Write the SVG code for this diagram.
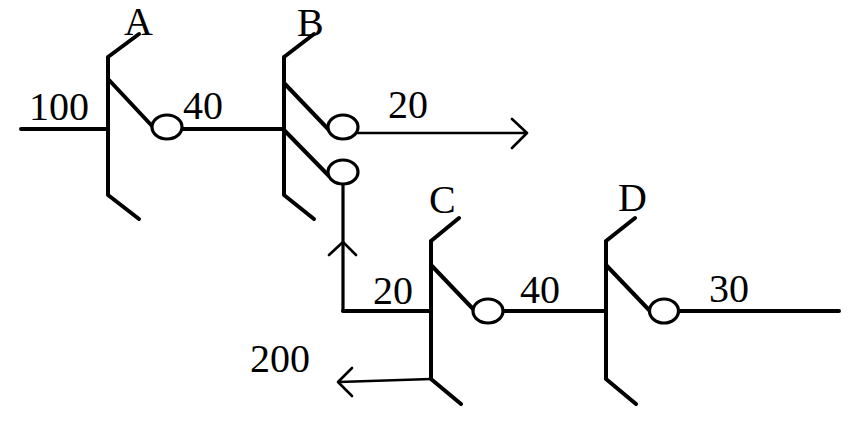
<svg xmlns="http://www.w3.org/2000/svg" width="848" height="446" viewBox="0 0 848 446">
<style>
.l{fill:none;stroke:#000;stroke-width:4;stroke-linecap:round;stroke-linejoin:round}
.t{fill:none;stroke:#000;stroke-width:2.6;stroke-linecap:round;stroke-linejoin:round}
.o{fill:#fff;stroke:#000;stroke-width:3.200}
text{font-family:"Liberation Serif",serif;font-size:40px;fill:#000}
</style>
<rect width="848" height="446" fill="#fff"/>
<g id="connectors">
<path class="l" d="M21 129H108M182 129H283"/>
<path class="t" style="stroke-width:3.200" d="M343 185V311"/>
<path class="l" d="M343 311H431"/>
<path class="l" d="M503 311H606"/>
<path class="l" d="M678 311H839"/>
<path class="t" d="M357 133H526M512 119L527 133L512 148"/>
<path class="t" d="M329 255L343 242L356 255"/>
<path class="t" d="M431 379L339 382M352 368L338 382L352 396"/>
</g>
<g id="node-A"><path class="l" d="M108 57V195L139 219M108 57L139 34M109 80L153 127"/><ellipse class="o" cx="167" cy="127" rx="15" ry="12"/><text x="124" y="35">A</text></g>
<g id="node-B"><path class="l" d="M284 57V195L314 219M284 57L314 34M284 83L329 130M284 130L329 176"/><ellipse class="o" cx="343" cy="127" rx="15" ry="12"/><ellipse class="o" cx="343" cy="172" rx="15" ry="12"/><text x="297" y="36">B</text></g>
<g id="node-C"><path class="l" d="M431 241V379L461 404M431 241L459 218M431 265L475 311"/><ellipse class="o" cx="488" cy="311" rx="15" ry="12"/><text x="429" y="213">C</text></g>
<g id="node-D"><path class="l" d="M606 241V379L636 404M606 241L635 218M606 265L650 311"/><ellipse class="o" cx="664" cy="311" rx="14.500" ry="12"/><text x="618" y="211">D</text></g>
<g id="labels">
<text x="29" y="120">100</text><text x="183" y="119">40</text><text x="388" y="118">20</text><text x="373" y="304">20</text><text x="520" y="303">40</text><text x="709" y="302">30</text><text x="250" y="372">200</text>
</g>
</svg>
